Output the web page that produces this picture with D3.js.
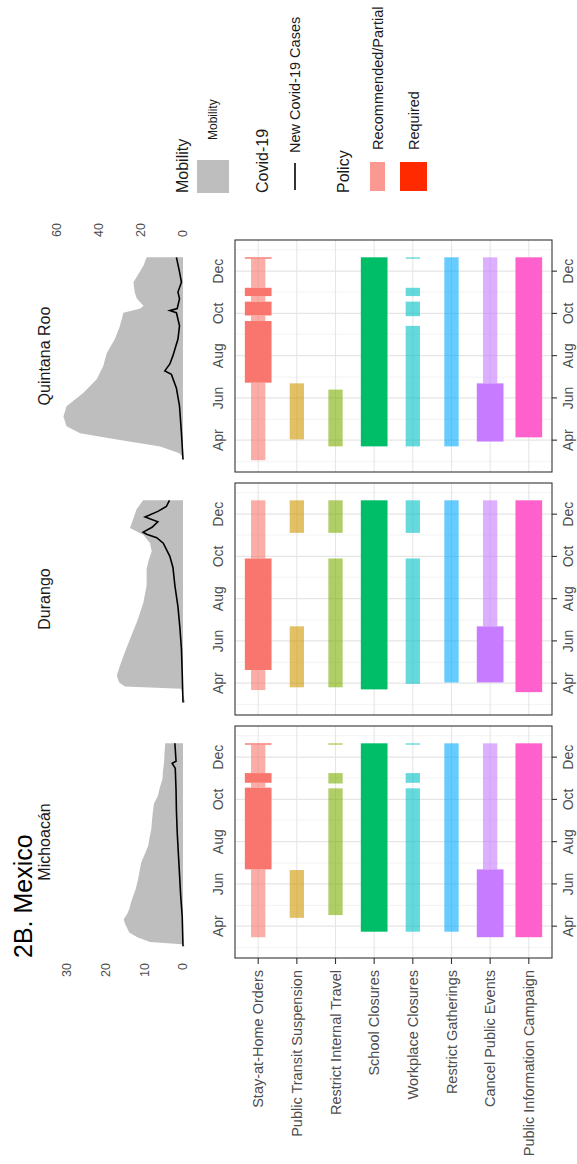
<!DOCTYPE html>
<html><head><meta charset="utf-8">
<script src="https://cdn.jsdelivr.net/npm/d3@7"></script>
<style>
body{margin:0;background:#fff}
svg{display:block}
text{font-family:"Liberation Sans",Arial,Helvetica,sans-serif}
</style>
</head><body>
<svg id="chart" width="577" height="1164"></svg>
<script>
// ---- data ----
const states = ["Michoacán", "Durango", "Quintana Roo"];
const policyNames = ["Stay-at-Home Orders", "Public Transit Suspension", "Restrict Internal Travel",
  "School Closures", "Workplace Closures", "Restrict Gatherings", "Cancel Public Events",
  "Public Information Campaign"];
const policyColors = ["#F8766D", "#CD9600", "#7CAE00", "#00BE67", "#00BFC4", "#00A9FF", "#C77CFF", "#FF61CC"];
const monthTicks = ["2020-04-01", "2020-06-01", "2020-08-01", "2020-10-01", "2020-12-01"];
const monthLabels = ["Apr", "Jun", "Aug", "Oct", "Dec"];
const minorTicks = ["2020-03-01", "2020-05-01", "2020-07-01", "2020-09-01", "2020-11-01", "2021-01-01"];
const mobilityTicks = [0, 10, 20, 30];
const casesTicks = [0, 20, 40, 60];
const levelNames = ["Recommended/Partial", "Required"];

// mobility (share of time at home, % change) by state
const mobilityMichoacan = [["2020-03-03",-0.6],["2020-03-06",0.3],["2020-03-09",8.5],["2020-03-16",11.8],["2020-03-23",13.9],["2020-03-30",14.5],["2020-04-06",15.1],["2020-04-11",15.3],["2020-04-20",14.3],["2020-04-27",13.8],["2020-05-04",13.5],["2020-05-14",12.9],["2020-05-25",12.2],["2020-06-08",11.6],["2020-06-20",11.2],["2020-07-02",10.8],["2020-07-15",9.8],["2020-07-26",9.0],["2020-08-08",8.6],["2020-08-19",8.2],["2020-09-01",8.0],["2020-09-12",7.8],["2020-09-25",7.5],["2020-10-06",6.5],["2020-10-18",6.0],["2020-10-30",5.3],["2020-11-10",5.2],["2020-11-23",4.9],["2020-12-05",4.8],["2020-12-21",4.6]];
const mobilityDurango = [["2020-03-04",-0.6],["2020-03-24",0.5],["2020-03-27",15.0],["2020-04-02",16.5],["2020-04-12",17.1],["2020-04-26",16.3],["2020-05-16",15.0],["2020-06-09",13.3],["2020-07-03",11.6],["2020-07-27",10.2],["2020-08-20",9.4],["2020-09-13",9.4],["2020-09-25",8.9],["2020-10-08",8.1],["2020-10-20",8.5],["2020-11-01",10.2],["2020-11-11",13.7],["2020-11-25",12.8],["2020-12-08",12.0],["2020-12-21",10.3]];
const mobilityQuintanaRoo = [["2020-03-04",-0.4],["2020-03-13",0.9],["2020-03-23",5.9],["2020-04-02",17.1],["2020-04-11",26.6],["2020-04-21",30.1],["2020-05-05",30.9],["2020-05-20",30.1],["2020-06-08",25.8],["2020-06-28",22.3],["2020-07-17",20.6],["2020-08-05",19.7],["2020-08-25",17.6],["2020-09-13",16.3],["2020-10-02",15.4],["2020-10-08",11.0],["2020-10-12",10.2],["2020-10-22",11.9],["2020-11-01",12.5],["2020-11-15",12.8],["2020-12-09",10.2],["2020-12-21",9.4]];

// new Covid-19 cases (per 100k, 7-day average) by state
const casesMichoacan = [["2020-03-03",0],["2020-04-15",0.2],["2020-05-15",0.6],["2020-06-15",0.9],["2020-07-15",1.2],["2020-08-15",1.5],["2020-09-15",1.7],["2020-10-15",1.8],["2020-11-15",2.0],["2020-11-22",2.8],["2020-11-25",1.8],["2020-12-21",2.1]];
const casesDurango = [["2020-03-04",0],["2020-04-15",0.2],["2020-05-20",0.4],["2020-06-20",0.8],["2020-07-20",1.3],["2020-08-20",2.1],["2020-09-15",2.6],["2020-10-01",3.4],["2020-10-10",4.2],["2020-10-20",5.1],["2020-10-28",6.8],["2020-11-02",9.4],["2020-11-05",10.3],["2020-11-12",8.0],["2020-11-20",6.5],["2020-11-27",9.8],["2020-12-05",6.5],["2020-12-12",4.3],["2020-12-21",3.5]];
const casesQuintanaRoo = [["2020-03-04",0],["2020-04-11",0.4],["2020-05-20",0.9],["2020-06-15",1.7],["2020-07-05",3.0],["2020-07-10",4.7],["2020-07-20",3.4],["2020-08-01",2.6],["2020-08-25",1.3],["2020-09-13",0.9],["2020-10-02",1.7],["2020-10-05",3.4],["2020-10-08",1.5],["2020-10-22",0.9],["2020-11-01",1.3],["2020-11-15",0.4],["2020-11-30",0.9],["2020-12-21",1.7]];

// policy periods: [policy index, start, end, level (0 = recommended/partial, 1 = required)]
const policyMichoacan = [
  [0,"2020-03-16","2020-06-22",0],[0,"2020-06-22","2020-10-18",1],[0,"2020-10-18","2020-10-25",0],
  [0,"2020-10-25","2020-11-08",1],[0,"2020-11-08","2020-12-19",0],[0,"2020-12-19","2020-12-21",1],
  [1,"2020-04-13","2020-06-21",0],
  [2,"2020-04-17","2020-10-17",0],[2,"2020-10-24","2020-11-08",0],[2,"2020-12-19","2020-12-21",0],
  [3,"2020-03-24","2020-12-21",1],
  [4,"2020-03-24","2020-10-17",0],[4,"2020-10-25","2020-11-08",0],[4,"2020-12-19","2020-12-21",0],
  [5,"2020-03-24","2020-12-21",0],
  [6,"2020-03-16","2020-06-22",1],[6,"2020-06-22","2020-12-21",0],
  [7,"2020-03-16","2020-12-21",1]];
const policyDurango = [
  [0,"2020-03-22","2020-04-20",0],[0,"2020-04-20","2020-09-28",1],[0,"2020-09-28","2020-12-21",0],
  [1,"2020-03-26","2020-06-22",0],[1,"2020-11-04","2020-12-21",0],
  [2,"2020-03-26","2020-09-28",0],[2,"2020-11-04","2020-12-21",0],
  [3,"2020-03-23","2020-12-21",1],
  [4,"2020-03-31","2020-09-28",0],[4,"2020-11-04","2020-12-21",0],
  [5,"2020-04-02","2020-12-21",0],
  [6,"2020-04-02","2020-06-22",1],[6,"2020-06-22","2020-12-21",0],
  [7,"2020-03-19","2020-12-21",1]];
const policyQuintanaRoo = [
  [0,"2020-03-03","2020-06-23",0],[0,"2020-06-23","2020-09-20",1],[0,"2020-09-20","2020-09-28",0],
  [0,"2020-09-28","2020-10-18",1],[0,"2020-10-18","2020-10-26",0],[0,"2020-10-26","2020-11-07",1],
  [0,"2020-11-07","2020-12-19",0],[0,"2020-12-19","2020-12-21",1],
  [1,"2020-04-02","2020-06-22",0],
  [2,"2020-03-23","2020-06-13",0],
  [3,"2020-03-23","2020-12-21",1],
  [4,"2020-03-23","2020-09-13",0],[4,"2020-09-27","2020-10-18",0],[4,"2020-10-26","2020-11-07",0],[4,"2020-12-19","2020-12-21",0],
  [5,"2020-03-23","2020-12-21",0],
  [6,"2020-03-30","2020-06-22",1],[6,"2020-06-22","2020-12-21",0],
  [7,"2020-04-05","2020-12-21",1]];

const mobility = [mobilityMichoacan, mobilityDurango, mobilityQuintanaRoo];
const cases = [casesMichoacan, casesDurango, casesQuintanaRoo];
const policies = [policyMichoacan, policyDurango, policyQuintanaRoo];

// ---- layout (drawn landscape, then turned to portrait) ----
const W = 1164, H = 577;
const panelLeft = [206, 449, 692], panelW = 232;
const areaTop = 55.3, areaBase = 183;
const polTop = 235, polBottom = 552;
const parse = d3.utcParse("%Y-%m-%d");
const grey = "#4D4D4D";

const svg = d3.select("#chart");
const root = svg.append("g").attr("transform", `translate(0,${W}) rotate(-90)`);

const x = d3.scaleUtc().domain([parse("2020-02-15"), parse("2021-01-15")]).range([0, panelW]);
const yMob = d3.scaleLinear().domain([0, 33]).range([areaBase, areaTop]);
const yCases = d3.scaleLinear().domain([0, 60.4]).range([areaBase, areaTop]);
const yPol = d3.scalePoint().domain(policyNames).range([polTop, polBottom]).padding(0.6);
const barW = [14.3, 26.7];
const recAlpha = 0.6;

// title
root.append("text").attr("x", panelLeft[0]).attr("y", 32).attr("font-size", 25).attr("fill", "#000").text("2B. Mexico");

states.forEach((st, i) => {
  const g = root.append("g").attr("transform", `translate(${panelLeft[i]},0)`);

  // strip title
  g.append("text").attr("x", panelW / 2).attr("y", 50).attr("text-anchor", "middle")
    .attr("font-size", 16).attr("fill", "#1a1a1a").text(st);

  // mobility area + cases line
  const mob = mobility[i].map(d => ({ date: parse(d[0]), v: d[1] }));
  g.append("path").datum(mob)
    .attr("d", d3.area().x(d => x(d.date)).y0(yMob(0)).y1(d => yMob(d.v)))
    .attr("fill", "#BEBEBE");
  const cs = cases[i].map(d => ({ date: parse(d[0]), v: d[1] }));
  g.append("path").datum(cs)
    .attr("d", d3.line().x(d => x(d.date)).y(d => yMob(d.v)))
    .attr("fill", "none").attr("stroke", "#000").attr("stroke-width", 1.6);

  // date labels under the mobility panel
  g.selectAll(".topLab").data(monthTicks).enter().append("text")
    .attr("x", d => x(parse(d))).attr("y", 223).attr("text-anchor", "middle")
    .attr("font-size", 14).attr("fill", grey).text((d, k) => monthLabels[k]);

  // policy panel
  const pg = g.append("g");
  pg.selectAll(".minor").data(minorTicks.filter(d => x(parse(d)) > 0 && x(parse(d)) < panelW)).enter()
    .append("line").attr("x1", d => x(parse(d))).attr("x2", d => x(parse(d)))
    .attr("y1", polTop).attr("y2", polBottom).attr("stroke", "#F0F0F0").attr("stroke-width", 0.8);
  pg.selectAll(".major").data(monthTicks).enter()
    .append("line").attr("x1", d => x(parse(d))).attr("x2", d => x(parse(d)))
    .attr("y1", polTop).attr("y2", polBottom).attr("stroke", "#E6E6E6").attr("stroke-width", 1.1);
  pg.selectAll(".hgrid").data(policyNames).enter()
    .append("line").attr("x1", 0).attr("x2", panelW)
    .attr("y1", d => yPol(d)).attr("y2", d => yPol(d)).attr("stroke", "#E6E6E6").attr("stroke-width", 1.1);

  const segs = policies[i].map(d => ({ p: d[0], s: parse(d[1]), e: parse(d[2]), lvl: d[3] }));
  segs.sort((a, b) => a.lvl - b.lvl);
  pg.selectAll(".bar").data(segs).enter().append("rect")
    .attr("x", d => x(d.s)).attr("width", d => Math.max(0.5, x(d.e) - x(d.s)))
    .attr("y", d => yPol(policyNames[d.p]) - barW[d.lvl] / 2).attr("height", d => barW[d.lvl])
    .attr("fill", d => policyColors[d.p]).attr("fill-opacity", d => d.lvl ? 1 : recAlpha);

  pg.append("rect").attr("x", 0).attr("y", polTop).attr("width", panelW).attr("height", polBottom - polTop)
    .attr("fill", "none").attr("stroke", "#333").attr("stroke-width", 1.1);

  // bottom date axis
  const xa = pg.append("g").attr("transform", `translate(0,${polBottom})`);
  xa.selectAll("line").data(monthTicks).enter().append("line")
    .attr("x1", d => x(parse(d))).attr("x2", d => x(parse(d))).attr("y1", 0).attr("y2", 5)
    .attr("stroke", "#333").attr("stroke-width", 1.1);
  xa.selectAll("text").data(monthTicks).enter().append("text")
    .attr("x", d => x(parse(d))).attr("y", 21).attr("text-anchor", "middle")
    .attr("font-size", 14).attr("fill", grey).text((d, k) => monthLabels[k]);

  // left axes on the first column
  if (i === 0) {
    g.selectAll(".ylab").data(mobilityTicks).enter().append("text")
      .attr("x", -5).attr("y", d => yMob(d)).attr("dy", "0.35em").attr("text-anchor", "end")
      .attr("font-size", 12.5).attr("fill", grey).text(d => d);
    pg.selectAll(".ctick").data(policyNames).enter().append("line")
      .attr("x1", -6).attr("x2", 0).attr("y1", d => yPol(d)).attr("y2", d => yPol(d))
      .attr("stroke", "#333").attr("stroke-width", 1.1);
    pg.selectAll(".clab").data(policyNames).enter().append("text")
      .attr("x", -12).attr("y", d => yPol(d)).attr("dy", "0.35em").attr("text-anchor", "end")
      .attr("font-size", 14.5).attr("fill", grey).text(d => d);
  }
  // right axis on the last column
  if (i === states.length - 1) {
    g.selectAll(".rlab").data(casesTicks).enter().append("text")
      .attr("x", panelW + 3).attr("y", d => yCases(d)).attr("dy", "0.35em").attr("text-anchor", "start")
      .attr("font-size", 12.5).attr("fill", grey).text(d => d);
  }
});

// ---- legend ----
const lg = root.append("g").attr("transform", "translate(971,0)");
lg.append("text").attr("x", 0).attr("y", 188).attr("font-size", 16).attr("fill", "#1a1a1a").text("Mobility");
lg.append("rect").attr("x", 0).attr("y", 197).attr("width", 33).attr("height", 32).attr("fill", "#BEBEBE");
lg.append("text").attr("x", 53).attr("y", 213).attr("dy", "0.35em").attr("font-size", 12).attr("fill", "#1a1a1a").text("Mobility");

lg.append("text").attr("x", 0).attr("y", 268).attr("font-size", 16).attr("fill", "#1a1a1a").text("Covid-19");
lg.append("line").attr("x1", 3).attr("x2", 30).attr("y1", 295).attr("y2", 295).attr("stroke", "#000").attr("stroke-width", 1.6);
lg.append("text").attr("x", 40).attr("y", 295).attr("dy", "0.35em").attr("font-size", 14.5).attr("fill", "#1a1a1a").text("New Covid-19 Cases");

lg.append("text").attr("x", 0).attr("y", 349).attr("font-size", 16).attr("fill", "#1a1a1a").text("Policy");
const keyY = [370, 400], keyH = [15, 27];
levelNames.forEach((name, k) => {
  lg.append("rect").attr("x", 2).attr("y", keyY[k]).attr("width", 29).attr("height", keyH[k])
    .attr("fill", k ? "#FF2A00" : "#F8766D").attr("fill-opacity", k ? 1 : 0.75);
  lg.append("text").attr("x", 43).attr("y", keyY[k] + keyH[k] / 2).attr("dy", "0.35em")
    .attr("font-size", 14.5).attr("fill", "#1a1a1a").text(name);
});
</script>
</body></html>
